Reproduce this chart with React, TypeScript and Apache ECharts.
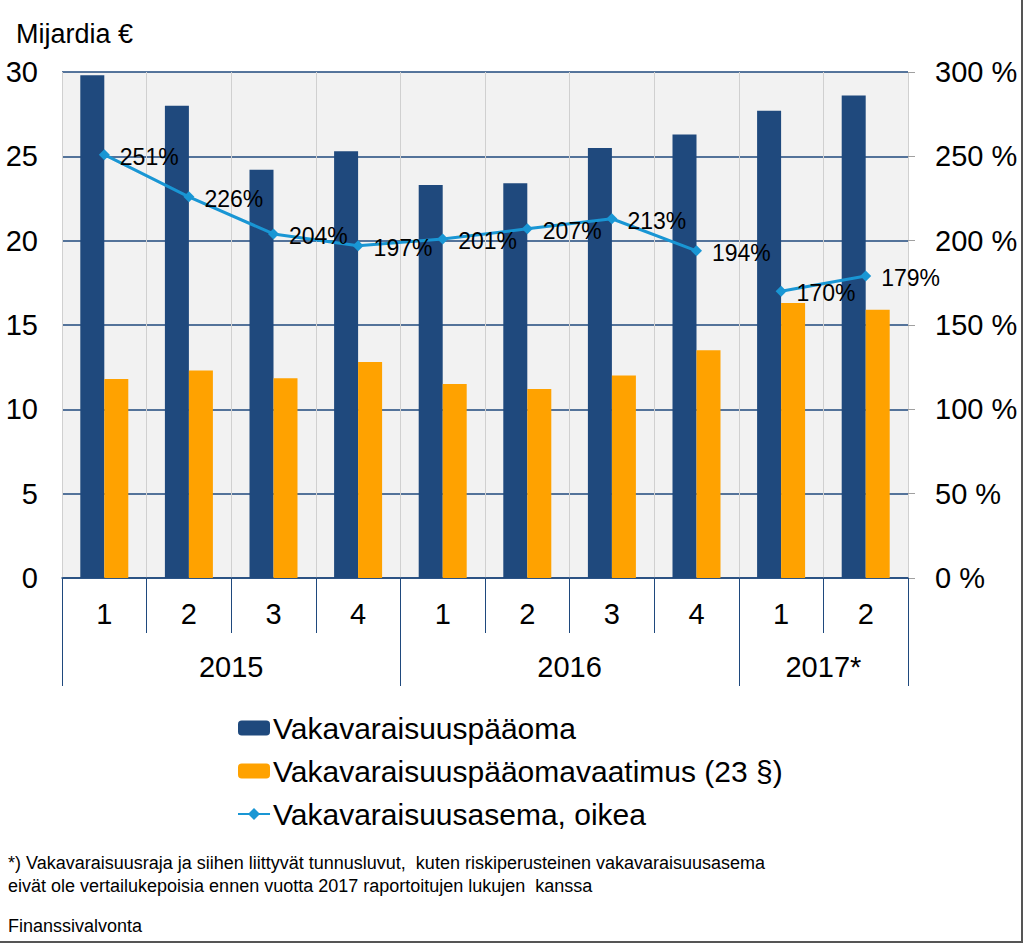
import React, { useEffect, useRef } from "react";
import * as echarts from "echarts";

const quarters = ["1", "2", "3", "4", "1", "2", "3", "4", "1", "2"];
const yearLabels = ["", "", "2015", "", "", "", "2016", "", "", "2017*", ""];
const yearDividers = [0, 4, 8, 10];
const capital = [29.8, 28.0, 24.2, 25.3, 23.3, 23.4, 25.5, 26.3, 27.7, 28.6];
const requirement = [11.8, 12.3, 11.85, 12.8, 11.5, 11.2, 12.0, 13.5, 16.3, 15.9];
const ratioA: (number | string)[] = [251, 226, 204, 197, 201, 207, 213, 194, "-", "-"];
const ratioB: (number | string)[] = ["-", "-", "-", "-", "-", "-", "-", "-", 170, 179];
const leftTicks = { min: 0, max: 30, interval: 5 };
const rightTicks = { min: 0, max: 300, interval: 50 };

const NAMES = [
  "Vakavaraisuuspääoma",
  "Vakavaraisuuspääomavaatimus (23 §)",
  "Vakavaraisuusasema, oikea",
];
const NAVY = "#1f497d";
const ORANGE = "#ffa200";
const BLUE = "#1996d4";
const FONT = "'Liberation Sans', Arial, sans-serif";

export default function App() {
  const ref = useRef<HTMLDivElement>(null);
  useEffect(() => {
    document.body.style.margin = "0";
    const chart = echarts.init(ref.current!, null, { renderer: "svg" });
    const lineLabel = {
      show: true,
      position: "right" as const,
      distance: 10,
      offset: [0, 2],
      formatter: "{c}%",
      fontSize: 23,
      color: "#000",
      fontFamily: FONT,
    };
    chart.setOption({
      animation: false,
      backgroundColor: "#fff",
      textStyle: { fontFamily: FONT },
      title: {
        text: "Mijardia €",
        left: 11,
        top: 15,
        textStyle: { fontSize: 27, fontWeight: "normal", color: "#000", fontFamily: FONT },
      },
      grid: {
        left: 62,
        right: 116,
        top: 72,
        bottom: 365,
        show: true,
        backgroundColor: "#f2f2f2",
        borderWidth: 0,
      },
      legend: {
        orient: "vertical",
        left: 237,
        top: 713,
        padding: 0,
        itemWidth: 32,
        itemHeight: 15,
        itemGap: 13,
        data: NAMES,
        textStyle: { fontSize: 30, color: "#000", fontFamily: FONT, padding: [0, 0, 0, -2] },
      },
      xAxis: [
        {
          type: "category",
          data: quarters,
          boundaryGap: true,
          axisLine: { show: true, lineStyle: { color: NAVY, width: 1.5 } },
          axisTick: { show: true, interval: 0, length: 55, lineStyle: { color: NAVY, width: 1 } },
          axisLabel: { interval: 0, margin: 21, fontSize: 29, color: "#000", fontFamily: FONT },
          splitLine: { show: true, interval: 0, lineStyle: { color: "#d0d0d0", width: 1 } },
        },
        {
          type: "category",
          data: yearLabels,
          boundaryGap: false,
          position: "bottom",
          axisLine: { show: false },
          axisTick: {
            show: true,
            length: 108,
            interval: (i: number) => yearDividers.indexOf(i) >= 0,
            lineStyle: { color: NAVY, width: 1 },
          },
          axisLabel: { interval: 0, margin: 74, fontSize: 29, color: "#000", fontFamily: FONT },
          splitLine: { show: false },
        },
      ],
      yAxis: [
        {
          type: "value",
          ...leftTicks,
          position: "left",
          axisLine: { show: false },
          axisTick: { show: false },
          axisLabel: { margin: 24, fontSize: 29, color: "#000", fontFamily: FONT },
          splitLine: { show: true, lineStyle: { color: NAVY, width: 1.5 } },
        },
        {
          type: "value",
          ...rightTicks,
          position: "right",
          axisLine: { show: false },
          axisTick: { show: true, length: 7, lineStyle: { color: "#a0a0a0" } },
          axisLabel: {
            margin: 27,
            fontSize: 29,
            color: "#000",
            fontFamily: FONT,
            formatter: "{value} %",
          },
          splitLine: { show: false },
        },
      ],
      series: [
        {
          name: NAMES[0],
          type: "bar",
          data: capital,
          barWidth: 24,
          barGap: "0%",
          itemStyle: { color: NAVY },
        },
        {
          name: NAMES[1],
          type: "bar",
          data: requirement,
          barWidth: 24,
          barGap: "0%",
          itemStyle: { color: ORANGE },
        },
        {
          name: NAMES[2],
          type: "line",
          yAxisIndex: 1,
          data: ratioA,
          symbol: "diamond",
          symbolSize: 11,
          lineStyle: { color: BLUE, width: 3 },
          itemStyle: { color: BLUE },
          label: lineLabel,
          z: 5,
        },
        {
          name: NAMES[2],
          type: "line",
          yAxisIndex: 1,
          data: ratioB,
          symbol: "diamond",
          symbolSize: 11,
          lineStyle: { color: BLUE, width: 3 },
          itemStyle: { color: BLUE },
          label: lineLabel,
          z: 5,
        },
      ],
      graphic: [
        {
          type: "text",
          left: 8,
          top: 851,
          style: {
            text:
              "*) Vakavaraisuusraja ja siihen liittyvät tunnusluvut,  kuten riskiperusteinen vakavaraisuusasema\neivät ole vertailukepoisia ennen vuotta 2017 raportoitujen lukujen  kanssa",
            fontSize: 18,
            lineHeight: 23,
            fill: "#000",
            fontFamily: FONT,
          },
        },
        {
          type: "text",
          left: 8,
          top: 917,
          style: { text: "Finanssivalvonta", fontSize: 18, fill: "#000", fontFamily: FONT },
        },
        {
          type: "line",
          shape: { x1: 1022, y1: 0, x2: 1022, y2: 942 },
          style: { stroke: "#555", lineWidth: 2 },
        },
        {
          type: "line",
          shape: { x1: 0, y1: 942, x2: 1023, y2: 942 },
          style: { stroke: "#555", lineWidth: 2 },
        },
      ],
    });
    return () => chart.dispose();
  }, []);
  return <div ref={ref} style={{ width: 1024, height: 943 }} />;
}
